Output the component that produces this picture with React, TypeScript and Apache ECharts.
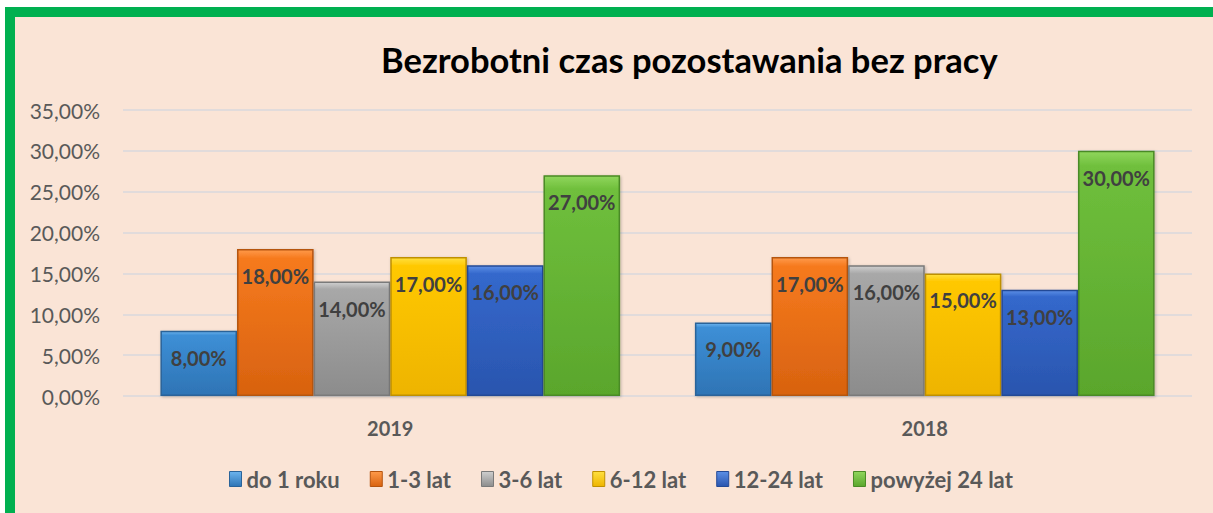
import React, { useEffect, useRef } from 'react';
import * as echarts from 'echarts';

const categories = ['2019', '2018'];
const seriesNames = ['do 1 roku', '1-3 lat', '3-6 lat', '6-12 lat', '12-24 lat', 'powyżej 24 lat'];
const doRoku = [8, 9];
const lat1to3 = [18, 17];
const lat3to6 = [14, 16];
const lat6to12 = [17, 15];
const lat12to24 = [16, 13];
const powyzej24 = [27, 30];
const seriesValues = [doRoku, lat1to3, lat3to6, lat6to12, lat12to24, powyzej24];
const yMin = 0;
const yMax = 35;
const yStep = 5;

const palette = [
  { top: '#6DB4EE', mid: '#3D8FD6', bottom: '#2E74B5', border: '#2A6399' },
  { top: '#FF9A4A', mid: '#F67A1E', bottom: '#D8620F', border: '#B5540F' },
  { top: '#CFCFCF', mid: '#A8A8A8', bottom: '#8C8C8C', border: '#7A7A7A' },
  { top: '#FFE040', mid: '#FFC800', bottom: '#EEB400', border: '#BF9000' },
  { top: '#5C8FE6', mid: '#3468CC', bottom: '#2A55AE', border: '#244A96' },
  { top: '#90D65C', mid: '#6FBF3C', bottom: '#5AA62C', border: '#4A8A25' },
];

const FONT = 'Lato, "Open Sans", sans-serif';
const fmt = (v: number) => v.toFixed(2).replace('.', ',') + '%';

export default function App() {
  const ref = useRef<HTMLDivElement>(null);
  useEffect(() => {
    if (!ref.current) return;
    const chart = echarts.init(ref.current, undefined, { renderer: 'svg' });
    const series = seriesNames.map((name, i) => ({
      name,
      type: 'bar',
      data: seriesValues[i],
      barGap: '0%',
      barCategoryGap: '14%',
      itemStyle: {
        color: new echarts.graphic.LinearGradient(0, 0, 0, 1, [
          { offset: 0, color: palette[i].top },
          { offset: 0.06, color: palette[i].mid },
          { offset: 1, color: palette[i].bottom },
        ]),
        borderColor: palette[i].border,
        borderWidth: 1.5,
        shadowColor: 'rgba(0,0,0,0.25)',
        shadowBlur: 3,
        shadowOffsetX: 1,
        shadowOffsetY: 1,
      },
      label: {
        show: true,
        position: 'insideTop',
        distance: 17,
        formatter: (p: any) => fmt(p.value),
        fontFamily: FONT,
        fontWeight: 'bold',
        fontSize: 20,
        color: '#404040',
      },
    }));
    chart.setOption({
      animation: false,
      backgroundColor: 'transparent',
      title: {
        text: 'Bezrobotni czas pozostawania bez pracy',
        left: 376,
        top: 37,
        textStyle: { fontFamily: FONT, fontWeight: 'bold', fontSize: 34.5, color: '#000000' },
      },
      legend: {
        data: seriesNames.map((n, i) => ({
          name: n,
          itemStyle: {
            color: new echarts.graphic.LinearGradient(0, 0, 0, 1, [
              { offset: 0, color: palette[i].top },
              { offset: 1, color: palette[i].bottom },
            ]),
            borderColor: palette[i].border,
            borderWidth: 1,
          },
        })),
        left: 224,
        top: 463,
        icon: 'rect',
        itemWidth: 12,
        itemHeight: 15,
        itemGap: 30,
        textStyle: { fontFamily: FONT, fontWeight: 'bold', fontSize: 22, color: '#595959' },
      },
      grid: { left: 123, right: 21, top: 110, bottom: 117, containLabel: false },
      xAxis: {
        type: 'category',
        data: categories,
        axisTick: { show: false },
        axisLine: { show: true, lineStyle: { color: '#BFBFBF', width: 2, shadowColor: 'rgba(0,0,0,0.25)', shadowBlur: 2, shadowOffsetY: 1 } },
        axisLabel: { margin: 22, fontFamily: FONT, fontWeight: 'bold', fontSize: 20, color: '#595959' },
      },
      yAxis: {
        type: 'value',
        min: yMin,
        max: yMax,
        interval: yStep,
        axisLine: { show: false },
        axisTick: { show: false },
        axisLabel: { margin: 23, fontFamily: FONT, fontSize: 21, color: '#595959', formatter: (v: number) => fmt(v) },
        splitLine: { lineStyle: { color: '#D8D9DC', width: 1.5 } },
      },
      series,
    });
    return () => chart.dispose();
  }, []);

  return (
    <div style={{ position: 'fixed', left: 0, top: 0, width: 1213, height: 513, background: '#ffffff', overflow: 'hidden' }}>
      <div
        style={{
          position: 'absolute',
          left: 5,
          top: 7,
          width: 1300,
          height: 600,
          border: '10px solid #00B050',
          background: '#FAE4D6',
        }}
      />
      <div ref={ref} style={{ position: 'absolute', left: 0, top: 0, width: 1213, height: 513 }} />
    </div>
  );
}
